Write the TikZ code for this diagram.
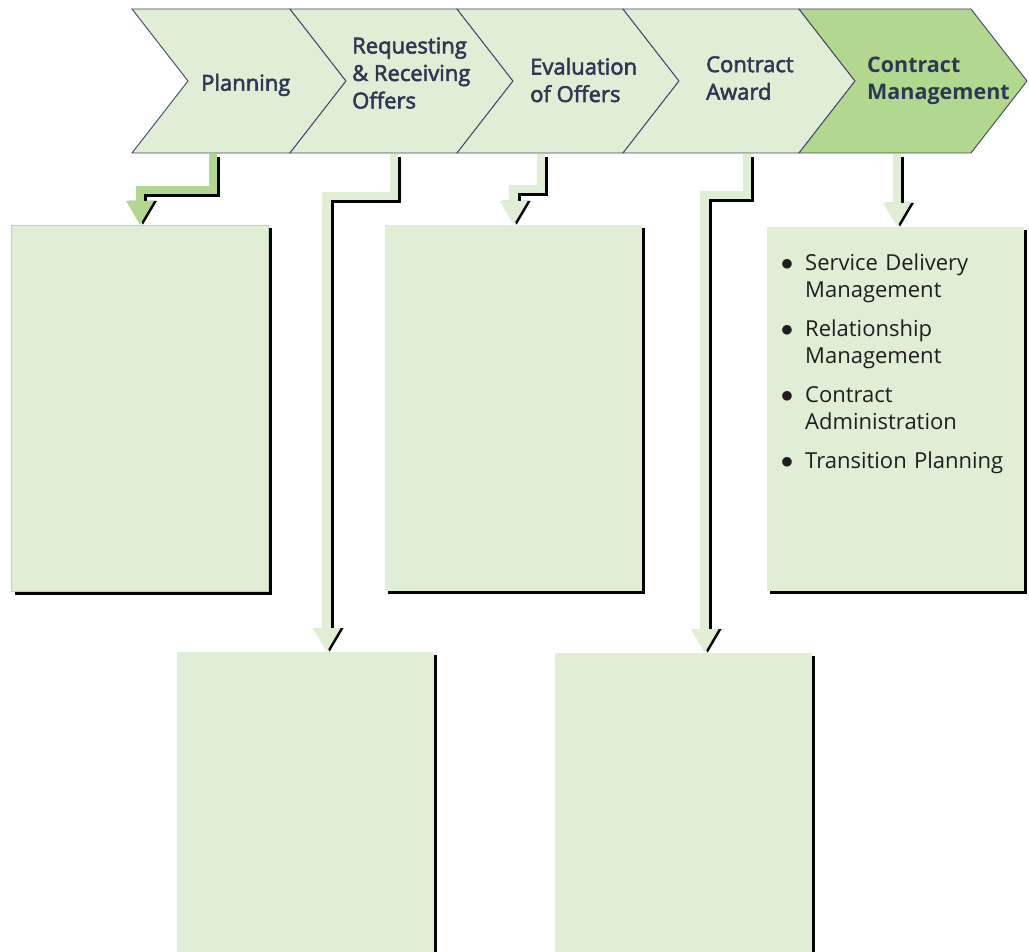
\documentclass[tikz,border=0pt]{standalone}
\usepackage{fontspec}
\setmainfont{Open Sans}
\newfontfamily\semifont[FakeBold=2.5]{Open Sans}
\usepackage{enumitem}
\usetikzlibrary{arrows.meta,shadows,positioning}
\definecolor{chevlight}{HTML}{E1EED6}
\definecolor{chevdark}{HTML}{B2D88F}
\definecolor{chevline}{HTML}{3C4663}
\definecolor{navy}{HTML}{2E3753}
\definecolor{boxline}{HTML}{B7DB9E}
\definecolor{listtext}{HTML}{1E1E1E}

\begin{document}
\begin{tikzpicture}[x=1pt,y=-1pt]
\tikzset{
	chev/.style={fill=chevlight, draw=chevline, line width=0.9pt, line join=miter},
	chevtext/.style={anchor=west, align=left, inner sep=0pt, text=navy, font=\semifont\fontsize{22}{27.5}\selectfont},
	box/.style={anchor=north west, fill=chevlight, minimum width=257pt, minimum height=366pt, inner sep=0pt,
		drop shadow={shadow xshift=3pt, shadow yshift=-3pt, fill=black, opacity=1}},
	arr/.style={line width=8.5pt, line join=miter, -{Triangle[width=26pt,length=24pt]}},
	arrshadow/.style={draw=black, shorten >=3pt},
	darkarr/.style={draw=chevdark},
	lightarr/.style={draw=chevlight}
}
\useasboundingbox (0,0) rectangle (1029,952);

\path[chev] (132,9) -- (290,9) -- (346,81) -- (290,153) -- (132,153) -- (188,81) -- cycle;
\path[chev] (290,9) -- (457,9) -- (513,81) -- (457,153) -- (290,153) -- (346,81) -- cycle;
\path[chev] (457,9) -- (623,9) -- (679,81) -- (623,153) -- (457,153) -- (513,81) -- cycle;
\path[chev] (623,9) -- (799,9) -- (855,81) -- (799,153) -- (623,153) -- (679,81) -- cycle;
\path[chev, fill=chevdark] (799,9) -- (971,9) -- (1027,81) -- (971,153) -- (799,153) -- (855,81) -- cycle;

\node[chevtext] (plan) at (201,85) {Planning};
\node[chevtext] (req) at (352,73) {Requesting\\\& Receiving\\Offers};
\node[chevtext] (eval) at (530,80) {Evaluation\\of Offers};
\node[chevtext] (award) at (706,78) {Contract\\Award};
\node[chevtext, font=\bfseries\fontsize{21.5}{27.5}\selectfont] (mgmt) at (867,81) {Contract\\Management};

\coordinate (planfoot) at (213,154);
\coordinate (reqfoot) at (394,154);
\coordinate (evalfoot) at (541,154);
\coordinate (awardfoot) at (747,154);
\coordinate (mgmtfoot) at (897,154);

\node[box, draw=boxline, line width=1pt] (planbox) at (11,225) {};
\node[box, minimum height=320pt] (reqbox) at (177,652) {};
\node[box] (evalbox) at (385,225) {};
\node[box, minimum height=320pt] (awardbox) at (555,653) {};
\node[box, minimum height=364pt] (mgmtbox) at (767,227) {};

\foreach \s/\ca/\cb in {3/arrshadow/arrshadow, 0/darkarr/lightarr} {
	\begin{scope}[transform canvas={shift={(\s,\s)}}]
		\draw[arr, \ca] (planfoot) -- ++(0,36) -| (planbox.north);
		\draw[arr, \cb] (reqfoot) -- ++(0,42) -| ([xshift=21pt]reqbox.north);
		\draw[arr, \cb] (evalfoot) -- ++(0,35) -| (evalbox.north);
		\draw[arr, \cb] (awardfoot) -- ++(0,41) -| ([xshift=21pt]awardbox.north);
		\draw[arr, \cb] (mgmtfoot) -- (mgmtfoot |- mgmtbox.north);
	\end{scope}
}

\node[anchor=north west, text width=250pt, align=left, inner sep=0pt, text=listtext,
	font=\fontsize{22}{27}\selectfont] (mgmtlist) at (767,243) {
	\begin{itemize}[label={\fontsize{27}{27}\selectfont$\bullet$}, leftmargin=38pt, labelsep=12pt, itemsep=12pt, topsep=0pt, parsep=0pt, partopsep=0pt]
		\item Service Delivery\\Management
		\item Relationship\\Management
		\item Contract\\Administration
		\item Transition Planning
	\end{itemize}};
\end{tikzpicture}
\end{document}
